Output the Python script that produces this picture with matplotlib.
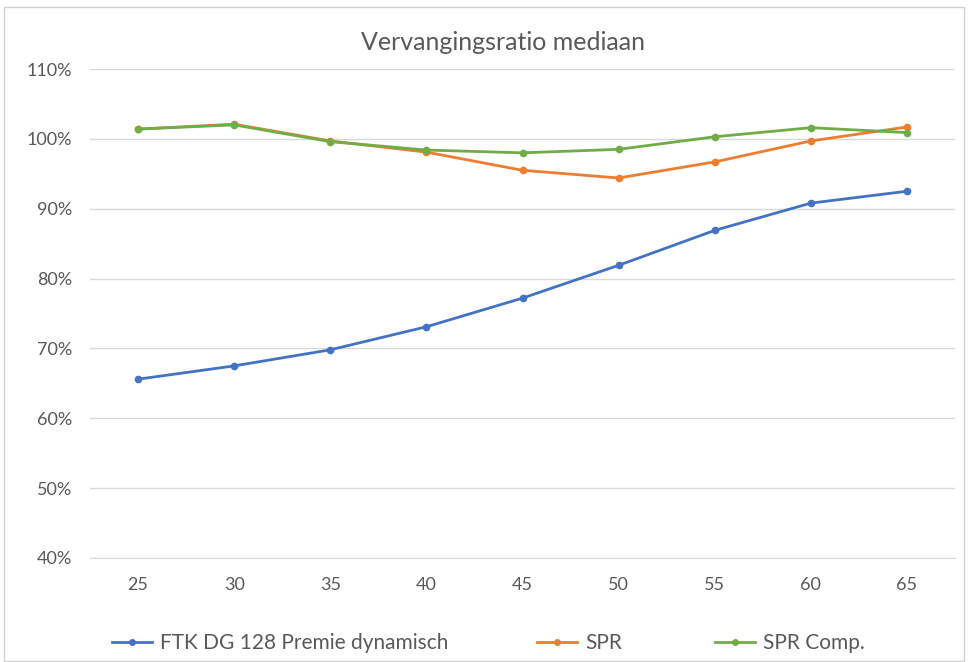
import matplotlib
matplotlib.use("Agg")
import matplotlib.pyplot as plt
from matplotlib.patches import Rectangle
from matplotlib.ticker import FuncFormatter

ages = [25, 30, 35, 40, 45, 50, 55, 60, 65]
ftk = [65.6, 67.5, 69.8, 73.1, 77.2, 81.9, 86.9, 90.8, 92.5]
spr = [101.4, 102.1, 99.7, 98.1, 95.5, 94.4, 96.7, 99.7, 101.7]
spr_comp = [101.4, 102.0, 99.6, 98.4, 98.0, 98.5, 100.3, 101.6, 100.9]
series_names = ["FTK DG 128 Premie dynamisch", "SPR", "SPR Comp."]
colors = ["#4472C4", "#ED7D31", "#70AD47"]
title = "Vervangingsratio mediaan"

plt.rcParams['font.family'] = ['Lato', 'DejaVu Sans']

W, H = 968, 662
fig = plt.figure(figsize=(W/100, H/100), dpi=100)
fig.patches.append(Rectangle((4/W, 0.002), 1 - 8/W, 1 - 8/H, transform=fig.transFigure,
                             fill=False, edgecolor="#d0d0d0", linewidth=1))

ax = fig.add_axes([90/W, 1 - 558/H, (955-90)/W, (558-69)/H])
x = list(range(len(ages)))
lines = []
for vals, name, c in zip([ftk, spr, spr_comp], series_names, colors):
    ln, = ax.plot(x, vals, color=c, linewidth=2, marker='o', markersize=4.5, label=name)
    lines.append(ln)

ax.set_xlim(-0.5, len(ages) - 0.5)
ax.set_ylim(40, 110)
ax.set_yticks(range(40, 111, 10))
ax.yaxis.set_major_formatter(FuncFormatter(lambda v, p: f"{int(v)}%"))
ax.set_xticks(x)
ax.set_xticklabels([str(a) for a in ages])
ax.grid(axis='y', color="#d9d9d9", linewidth=1)
ax.set_axisbelow(True)
for s in ['top', 'right', 'left']:
    ax.spines[s].set_visible(False)
ax.spines['bottom'].set_color("#d9d9d9")
ax.tick_params(axis='both', length=0, labelsize=13, colors="#595959")
ax.tick_params(axis='y', pad=13)
ax.tick_params(axis='x', pad=14)

fig.text(503 / W, 1 - 42/H, title, ha='center', va='center', fontsize=18, color="#595959")

# legend entries placed at measured handle positions
leg_x = [112, 537, 715]
for ln, lx in zip(lines, leg_x):
    leg = fig.legend(handles=[ln], loc='center left', bbox_to_anchor=(lx / W, 1 - 643/H),
                     frameon=False, fontsize=15, labelcolor="#595959", borderpad=0,
                     handlelength=1.9, handletextpad=0.4, borderaxespad=0)
    for h in leg.legend_handles:
        h.set_markersize(4)

fig.savefig("out.png", dpi=100)
